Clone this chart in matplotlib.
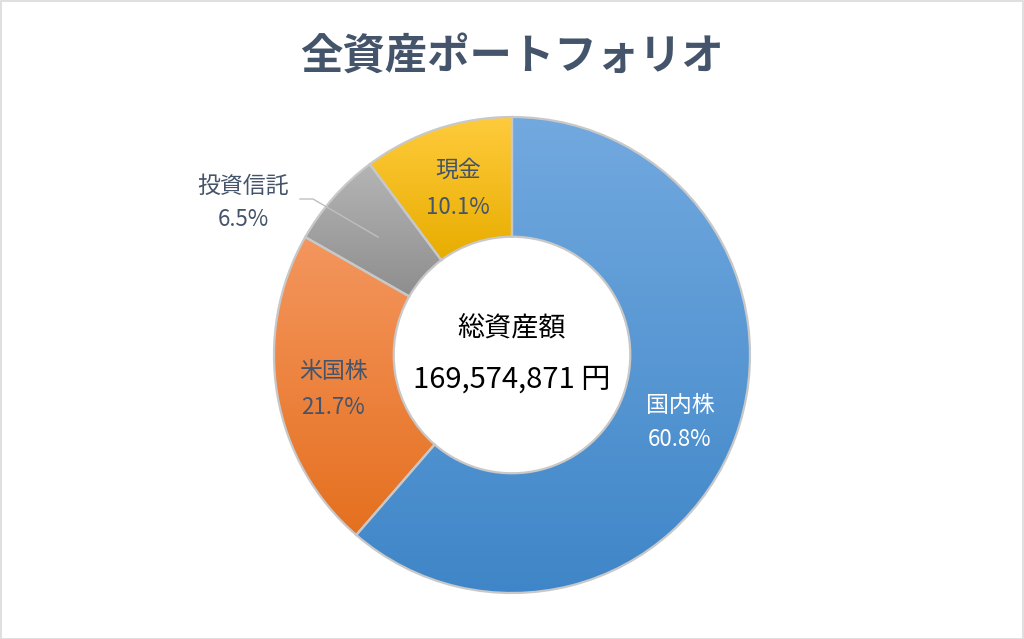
import matplotlib
matplotlib.use("Agg")
import matplotlib.pyplot as plt
import numpy as np
from matplotlib.colors import LinearSegmentedColormap
from matplotlib.patches import Rectangle

plt.rcParams["font.family"] = ["Noto Sans CJK JP", "DejaVu Sans"]

# データ
labels = ["国内株", "米国株", "投資信託", "現金"]
shares = [60.8, 21.7, 6.5, 10.1]
total_label = "総資産額"
total_value = "169,574,871 円"
title = "全資産ポートフォリオ"

# グラデーション (上 -> 下)
grad_colors = [("#72A9DF", "#3F86C8"),
               ("#F4965E", "#E5701F"),
               ("#B5B5B5", "#8E8E8E"),
               ("#FFCB3C", "#E8AD00")]
label_colors = ["white", "#44546A", "#44546A", "#44546A"]

W, H = 1024, 639
fig = plt.figure(figsize=(W / 100, H / 100), dpi=100)
ax = fig.add_axes([0, 0, 1, 1])


def py(y):
    # ピクセル座標(上から) -> データ座標
    return H - y


cx, cy, r = 512, py(355), 238
wedges, _ = ax.pie(shares, startangle=90, counterclock=False,
                   radius=r, center=(cx, cy), frame=True,
                   wedgeprops=dict(width=r * 0.503, facecolor="none",
                                   edgecolor="#C8C8C8", linewidth=1.6))

grad = np.linspace(0, 1, 256).reshape(-1, 1)
for w, (c_top, c_bot) in zip(wedges, grad_colors):
    w.set_zorder(3)
    ext = w.get_path().get_extents()
    cmap = LinearSegmentedColormap.from_list("g", [c_top, c_bot])
    im = ax.imshow(grad, cmap=cmap, aspect="auto", origin="upper",
                   extent=[ext.x0, ext.x1, ext.y0, ext.y1], zorder=2,
                   interpolation="bilinear")
    im.set_clip_path(w)
ax.set_xlim(0, W)
ax.set_ylim(0, H)
ax.set_aspect("auto")
ax.set_axis_off()

# ラベル
label_pos = [(680, 405, 440), (333, 372, 408), (243, 186, 220), (458, 170, 207)]
for name, val, col, (x, y1, y2) in zip(labels, shares, label_colors, label_pos):
    ax.text(x, py(y1), name, color=col, fontsize=16.5, ha="center", va="center", zorder=5)
    ax.text(x, py(y2), f"{val}%", color=col, fontsize=16, ha="center", va="center", zorder=5)

# 投資信託の引き出し線
ax.plot([300, 313, 378], [py(199), py(199), py(237)], color="#BFBFBF",
        linewidth=1.0, zorder=6)

# 中央テキスト
ax.text(cx, py(328), total_label, fontsize=19.5, ha="center", va="center", color="black")
ax.text(cx, py(380), total_value, fontsize=21, ha="center", va="center", color="black")

# タイトル
fig.text(0.5, 1 - 57 / H, title, fontsize=30.5, fontweight="bold", color="#44546A",
         ha="center", va="center")

# 外枠
fig.patches.append(Rectangle((0.5 / W, 0.5 / H), 1 - 1.5 / W, 1 - 1.5 / H,
                             transform=fig.transFigure, fill=False,
                             edgecolor="#D9D9D9", linewidth=1.2))

fig.savefig("out.png", dpi=100, facecolor="white")
